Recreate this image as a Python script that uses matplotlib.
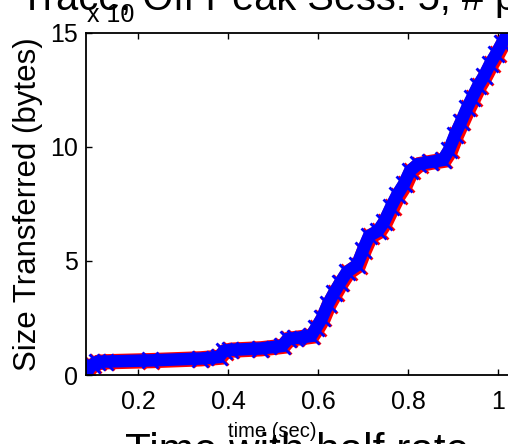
import matplotlib
matplotlib.use("Agg")
import matplotlib.pyplot as plt

plt.rcParams["font.family"] = ["Liberation Sans", "DejaVu Sans"]

# cumulative transfer (x 10^6 bytes)
blue_time = [0.0889, 0.0978, 0.1089, 0.1267, 0.2267, 0.3378, 0.380, 0.3911, 0.4044,
             0.4711, 0.520, 0.5333, 0.5489, 0.5844, 0.5956, 0.6089, 0.6222, 0.6356,
             0.6489, 0.6644, 0.6867, 0.700, 0.7133, 0.7333, 0.7467, 0.7622, 0.7756,
             0.7911, 0.8044, 0.8222, 0.8489, 0.8778, 0.8911, 0.9044, 0.9178, 0.9311,
             0.9422, 0.9556, 0.9689, 0.9822, 0.9956, 1.0089, 1.0222]
blue_size = [0.22, 0.44, 0.57, 0.59, 0.64, 0.72, 0.79, 1.05, 1.10,
             1.16, 1.27, 1.58, 1.62, 1.71, 2.06, 2.50, 3.11, 3.60,
             4.04, 4.52, 4.82, 5.48, 6.10, 6.32, 6.71, 7.37, 7.89,
             8.38, 8.95, 9.25, 9.34, 9.43, 9.87, 10.53, 11.10, 11.71,
             12.15, 12.68, 13.11, 13.64, 14.08, 14.56, 15.00]
red_time = [0.0900, 0.1000, 0.1110, 0.1290, 0.2290, 0.3400, 0.3830, 0.3940, 0.4070,
            0.4740, 0.5230, 0.5360, 0.5520, 0.5870, 0.5990, 0.6120, 0.6250, 0.6390,
            0.6520, 0.6680, 0.6900, 0.7030, 0.7170, 0.7370, 0.7500, 0.7660, 0.7790,
            0.7950, 0.8080, 0.8260, 0.8520, 0.8810, 0.8950, 0.9080, 0.9210, 0.9350,
            0.9460, 0.9590, 0.9720, 0.9860, 0.9990, 1.0120, 1.0260]
red_size = [0.20, 0.42, 0.55, 0.58, 0.63, 0.71, 0.78, 1.03, 1.09,
            1.15, 1.26, 1.56, 1.61, 1.70, 2.04, 2.48, 3.09, 3.58,
            4.02, 4.50, 4.80, 5.46, 6.08, 6.30, 6.69, 7.35, 7.87,
            8.36, 8.93, 9.23, 9.33, 9.42, 9.85, 10.51, 11.08, 11.69,
            12.13, 12.66, 13.09, 13.62, 14.06, 14.54, 14.98]

x_ticks = [0.2, 0.4, 0.6, 0.8, 1.0]
x_tick_labels = ["0.2", "0.4", "0.6", "0.8", "1"]
y_ticks = [0, 5, 10, 15]

W, H = 508, 444
fig = plt.figure(figsize=(W / 100, H / 100), dpi=100)
ax = fig.add_axes([86 / W, 69 / H, 434 / W, 342 / H])

ax.plot(red_time, red_size, color="#ff0000", lw=11, marker="x", ms=12, mew=2,
        solid_joinstyle="miter")
ax.plot(blue_time, blue_size, color="#0000ff", lw=9, marker="x", ms=11, mew=2,
        solid_joinstyle="miter")

ax.set_xlim(0.0844, 1.0489)
ax.set_ylim(0, 15)
ax.set_xticks(x_ticks)
ax.set_xticklabels(x_tick_labels)
ax.set_yticks(y_ticks)
ax.tick_params(direction="in", length=4, width=1, labelsize=18, top=True, right=True)
ax.tick_params(axis="x", pad=11)
ax.tick_params(axis="y", pad=6)
for sp in ax.spines.values():
    sp.set_linewidth(1.3)

ax.set_xlabel("time (sec)", fontsize=14.5)
ax.xaxis.set_label_coords((272 - 86) / 434, -47 / 342)

fig.text(28 / W, 1 - 204 / H, "Size Transferred (bytes)", rotation=90,
         ha="center", va="center", fontsize=22.5)
fig.text(87 / W, 1 - 22 / H, "x 10", fontsize=18, va="baseline")
fig.text(20 / W, 1 - 10 / H, "Trace, Off Peak Sess: 5, # pkts", fontsize=28.6,
         va="baseline")
fig.text(125 / W, 1 - 463 / H, "Time with half rate", fontsize=30.4, va="baseline")

fig.savefig("out.png", dpi=100)
